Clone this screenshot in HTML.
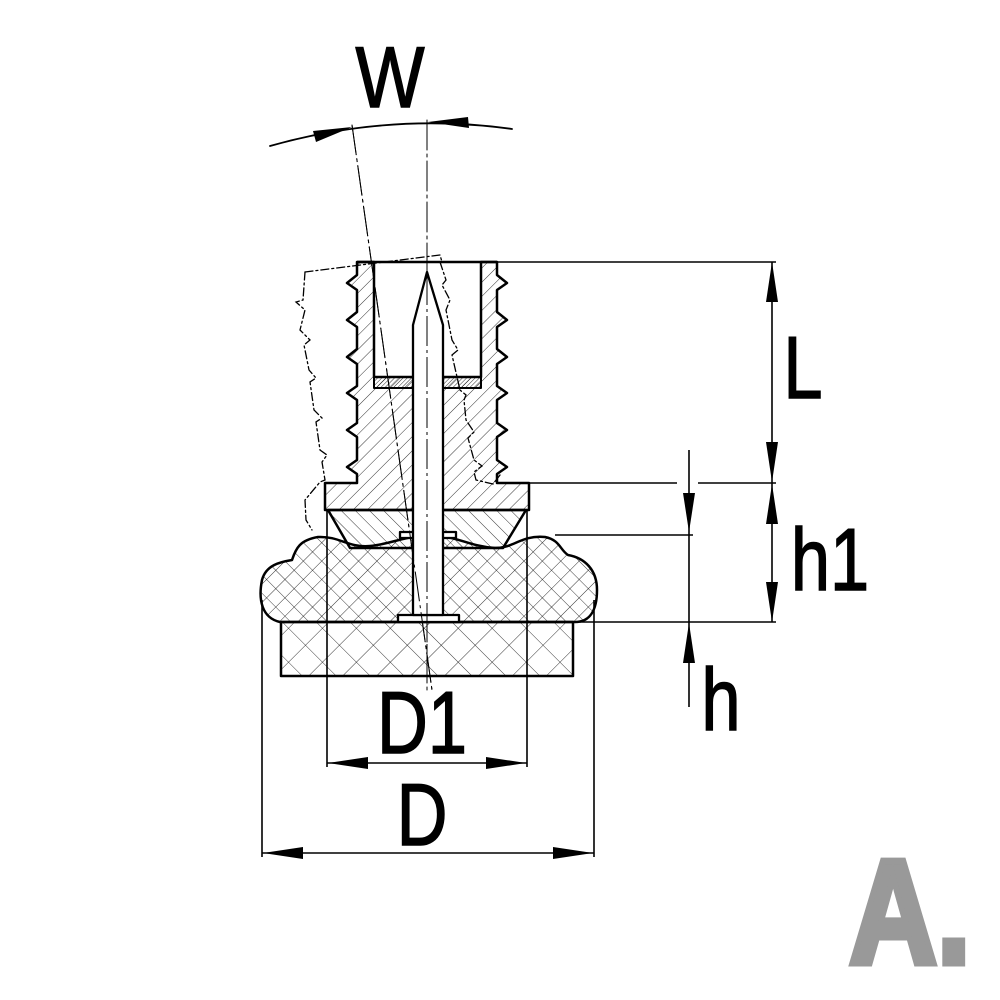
<!DOCTYPE html>
<html><head><meta charset="utf-8"><style>html,body{margin:0;padding:0;background:#fff}svg{display:block}</style></head><body>
<svg width="1000" height="1000" viewBox="0 0 1000 1000" xmlns="http://www.w3.org/2000/svg">
<defs>
<pattern id="h1" width="10" height="10" patternUnits="userSpaceOnUse" patternTransform="rotate(45)"><line x1="0" y1="0" x2="0" y2="10" stroke="#000" stroke-width="0.8"/></pattern>
<pattern id="h2" width="10" height="10" patternUnits="userSpaceOnUse" patternTransform="rotate(-45)"><line x1="0" y1="0" x2="0" y2="10" stroke="#000" stroke-width="0.8"/></pattern>
<pattern id="x1" width="13" height="13" patternUnits="userSpaceOnUse" patternTransform="rotate(45)"><path d="M0 0V13M0 0H13" stroke="#000" stroke-width="0.8"/></pattern>
<pattern id="x2" width="24" height="24" patternUnits="userSpaceOnUse" patternTransform="rotate(45)"><path d="M0 0V24M0 0H24" stroke="#000" stroke-width="0.8"/></pattern>
<pattern id="fine" width="3" height="3" patternUnits="userSpaceOnUse" patternTransform="rotate(45)"><line x1="0" y1="0" x2="0" y2="3" stroke="#000" stroke-width="0.8"/></pattern>
</defs>
<g fill="none" stroke="#000" stroke-linecap="round">
<g stroke-width="1.3" stroke-dasharray="8,3,2,3">
<polyline points="305,272 440,255 442,262"/>
<polyline points="305,272 303,300 296,302 305,310 300,330 310,340 304,345 309,370 316,378 310,382 314,410 322,418 316,422 320,450 327,455 322,462 325,480 320,482 305,500 306,520 312,530"/>
<polyline points="440,262 446,280 442,285 450,300 446,310 452,340 458,350 452,355 460,390 466,395 464,400 466,420 474,432 468,438 474,460 482,466 474,472 476,480 493,484 500,475"/>
</g>
<line x1="427" y1="120" x2="427" y2="690" stroke-width="1" stroke-dasharray="30,4,3,4"/>
<line x1="352" y1="125" x2="432" y2="690" stroke-width="1" stroke-dasharray="30,4,3,4"/>
<path d="M270 146 Q390 112 512 129" stroke-width="1.8"/>
</g>
<g fill="#000">
<polygon points="352,127 313,131 316,142"/>
<polygon points="428,122 468,117 469,128"/>
</g>
<g stroke="#000" stroke-width="2.5" stroke-linejoin="round">
<path fill="url(#h1)" d="M357 262 H374 V377 H481 V262 H497 V275 L507 283 L497 290 V312 L507 320 L497 327 V349 L507 357 L497 364 V386 L507 393 L497 400 V423 L507 430 L497 437 V460 L507 467 L497 474 V483 H529 V510 H325 V483 H357 V474 L347 467 L357 460 V437 L347 430 L357 423 V400 L347 393 L357 386 V364 L347 357 L357 349 V327 L347 320 L357 312 V290 L347 283 L357 275 Z"/>
<line x1="357" y1="262" x2="497" y2="262"/>
<rect x="374" y="377" width="107" height="11" fill="url(#fine)" stroke-width="2"/>
<path fill="url(#h2)" d="M328 510 H526 L503 548 H350 Z"/>
<path fill="url(#x1)" d="M280 622 C262 618 258 600 262 580 C266 565 280 562 292 560 C296 548 300 540 318 537 C340 536 348 548 370 546 C390 544 400 538 420 536 L440 536 C460 538 470 546 495 548 C515 548 520 535 545 537 C560 540 560 550 568 555 C585 558 597 570 597 590 C597 610 590 622 575 622 Z"/>
<rect x="281" y="622" width="292" height="54" fill="url(#x2)"/>
</g>
<g stroke="#000" stroke-width="2.3" fill="#fff" stroke-linejoin="round">
<rect x="400" y="532" width="56" height="6"/>
<rect x="398" y="615" width="61" height="7"/>
<path d="M413 615 V325 L427 272 L443 325 V615 Z"/>
</g>
<line x1="427" y1="275" x2="427" y2="660" stroke="#000" stroke-width="1" stroke-dasharray="30,4,3,4"/>
<line x1="352" y1="125" x2="432" y2="690" stroke="#000" stroke-width="1" stroke-dasharray="30,4,3,4"/>
<g stroke="#000" stroke-width="1.6" fill="none">
<line x1="497" y1="262" x2="776" y2="262"/>
<line x1="530" y1="483" x2="677" y2="483"/><line x1="698" y1="483" x2="776" y2="483"/>
<line x1="555" y1="535" x2="693" y2="535"/>
<line x1="575" y1="622" x2="776" y2="622"/>
<line x1="772" y1="262" x2="772" y2="622"/>
<line x1="689" y1="450" x2="689" y2="707"/>
<line x1="262" y1="600" x2="262" y2="857"/>
<line x1="594" y1="600" x2="594" y2="857"/>
<line x1="327" y1="510" x2="327" y2="767"/>
<line x1="527" y1="510" x2="527" y2="767"/>
<line x1="327" y1="763" x2="527" y2="763"/>
<line x1="262" y1="853" x2="594" y2="853"/>
</g>
<g fill="#000">
<polygon points="772,262 766,302 778,302"/>
<polygon points="772,482 766,442 778,442"/>
<polygon points="772,484 766,524 778,524"/>
<polygon points="772,622 766,582 778,582"/>
<polygon points="689,532 683,493 695,493"/>
<polygon points="689,623 683,663 695,663"/>
<polygon points="328,763 368,757 368,769"/>
<polygon points="526,763 486,757 486,769"/>
<polygon points="263,853 303,847 303,859"/>
<polygon points="593,853 553,847 553,859"/>
</g>
<g font-family="'Liberation Sans', sans-serif" fill="#000" stroke="#000" stroke-width="1.5">
<text x="390" y="107" font-size="86" text-anchor="middle" transform="translate(390 0) scale(0.85 1) translate(-390 0)">W</text>
<text x="803" y="398" font-size="88" text-anchor="middle" transform="translate(803 0) scale(0.8 1) translate(-803 0)">L</text>
<text x="830" y="590" font-size="88" text-anchor="middle" transform="translate(830 0) scale(0.8 1) translate(-830 0)">h1</text>
<text x="721" y="730" font-size="88" text-anchor="middle" transform="translate(721 0) scale(0.8 1) translate(-721 0)">h</text>
<text x="422" y="753" font-size="88" text-anchor="middle" transform="translate(422 0) scale(0.8 1) translate(-422 0)">D1</text>
<text x="422" y="845" font-size="88" text-anchor="middle" transform="translate(422 0) scale(0.8 1) translate(-422 0)">D</text>
<text x="910" y="963" font-size="148" font-weight="bold" fill="#999" stroke="#999" stroke-width="7" text-anchor="middle" transform="translate(910 0) scale(0.82 1) translate(-910 0)">A.</text>
</g>
</svg>
</body></html>
